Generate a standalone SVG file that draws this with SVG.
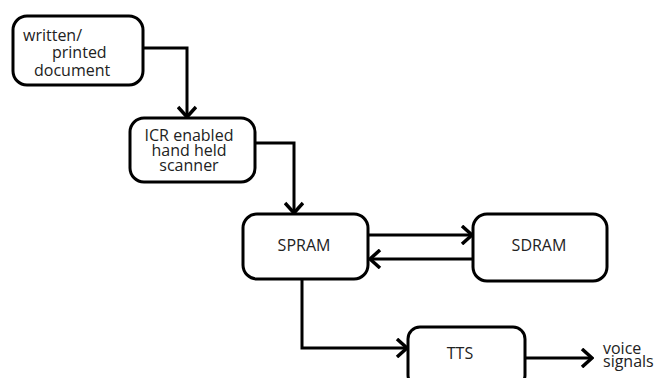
<svg xmlns="http://www.w3.org/2000/svg" width="656" height="378" viewBox="0 0 656 378">
<style>
.box{fill:#fff;stroke:#000;stroke-width:3}
.ln{fill:none;stroke:#000;stroke-width:3}
text{font-family:"Open Sans","Noto Sans",sans-serif;font-size:16px;fill:#222}
.c{text-anchor:middle}
</style>
<defs>
<marker id="ah" viewBox="0 0 20 20" refX="18" refY="10" markerWidth="20" markerHeight="20" markerUnits="userSpaceOnUse" orient="auto">
<path d="M8,1 L18,10 L8,19" fill="none" stroke="#000" stroke-width="3.5"/>
</marker>
</defs>
<rect width="656" height="378" fill="#fff"/>
<g id="connectors">
<path class="ln" d="M143,48 H187 V117" marker-end="url(#ah)"/>
<path class="ln" d="M255,143 H294 V213" marker-end="url(#ah)"/>
<path class="ln" d="M368,235 H472" marker-end="url(#ah)"/>
<path class="ln" d="M473,259 H370" marker-end="url(#ah)"/>
<path class="ln" d="M302,279 V348 H407" marker-end="url(#ah)"/>
<path class="ln" d="M525,358 H592" marker-end="url(#ah)"/>
</g>
<g id="doc">
<rect class="box" x="13" y="16" width="130" height="69" rx="14"/>
<text x="23" y="41">written/</text>
<text x="52" y="58">printed</text>
<text x="34" y="76">document</text>
</g>
<g id="scanner">
<rect class="box" x="130" y="118" width="125" height="64" rx="14"/>
<text class="c" x="189" y="141">ICR enabled</text>
<text class="c" x="189" y="156">hand held</text>
<text class="c" x="189" y="171">scanner</text>
</g>
<g id="spram">
<rect class="box" x="243" y="214" width="125" height="65" rx="14"/>
<text class="c" x="304" y="251">SPRAM</text>
</g>
<g id="sdram">
<rect class="box" x="473" y="214" width="134" height="67" rx="14"/>
<text class="c" x="539" y="251">SDRAM</text>
</g>
<g id="tts">
<rect class="box" x="408" y="327" width="117" height="60" rx="12"/>
<text class="c" x="460" y="359">TTS</text>
</g>
<g id="voice">
<text x="603" y="354">voice</text>
<text x="603" y="367">signals</text>
</g>
</svg>
